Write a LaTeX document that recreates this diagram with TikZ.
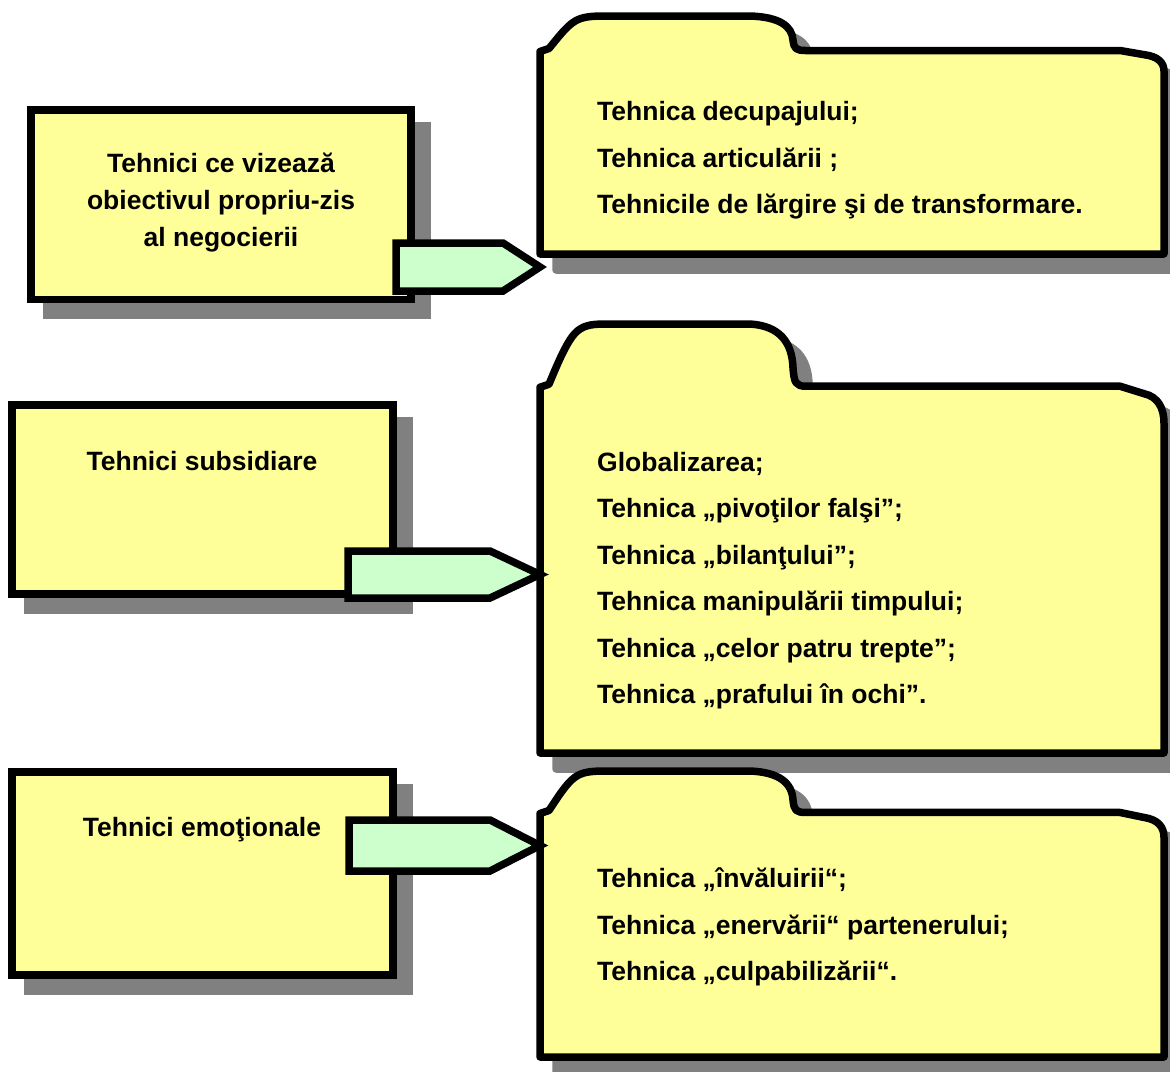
\documentclass[tikz,border=0pt]{standalone}
\usepackage{fontspec}
\setmainfont{Liberation Sans}
\definecolor{boxyellow}{HTML}{FFFF99}
\definecolor{arrowgreen}{HTML}{CCFFCC}
\definecolor{shadowgray}{HTML}{808080}
\tikzset{
  outline/.style={draw=black, line width=7.5pt},
  boxfill/.style={outline, fill=boxyellow, line join=miter},
  foldfill/.style={outline, fill=boxyellow, line join=round},
  shadowfill/.style={fill=shadowgray, draw=shadowgray, line width=7.5pt, line join=miter},
  blockarrow/.style={outline, fill=arrowgreen, line join=miter, miter limit=10},
  itemtext/.style={font=\fontsize{26.5}{30}\selectfont\bfseries, inner sep=0pt, anchor=base west},
  headtext/.style={font=\fontsize{26.5}{30}\selectfont\bfseries, inner sep=0pt, anchor=base},
}
\newcommand\folderpath{(540,\folB) -- (540,\folM+1) -- (549,\folM-2)
  .. controls (556,\folT+0.7*\folh) and (566,\folT+0.3*\folh) .. (575,\folT+0.15*\folh)
  .. controls (582,\folT+0.03*\folh) and (590,\folT) .. (605,\folT)
  -- (750,\folT)
  .. controls (780,\folT+0.03*\folh) and (792,\folT+0.3*\folh) .. (793,\folT+0.7*\folh)
  .. controls (794,\folM-0.05*\folh) and (796,\folM) .. (806,\folM)
  -- (1120,\folM) -- (1144,\folM+0.12*\folh)
  .. controls (1158,\folM+0.17*\folh) and (1164,\folM+0.35*\folh) .. (1164,\folM+0.6*\folh)
  -- (1164,\folB) -- cycle}
\newcommand\drawfolder[2]{%
  \pgfmathsetmacro\folT{#1}%
  \pgfmathsetmacro\folB{#2}%
  \pgfmathsetmacro\folh{0.145*(#2-#1)}%
  \pgfmathsetmacro\folM{#1+\folh}%
  \path[shadowfill, line join=round, shift={(16,16)}] \folderpath;
  \path[foldfill] \folderpath;
}
\newcommand\drawbox[4]{% x1,y1,x2,y2
  \path[shadowfill] (#1+16,#2+16) rectangle (#3+16,#4+16);
  \path[boxfill] (#1,#2) rectangle (#3,#4);
}
\begin{document}
\begin{tikzpicture}[x=1pt, y=-1pt]
\useasboundingbox (0,0) rectangle (1170,1071);

% folders
\drawfolder{16}{254}
\drawfolder{324}{753}
\drawfolder{771}{1057}

% left boxes
\drawbox{31}{110}{411}{299.5}
\drawbox{12}{405}{393}{594}
\drawbox{12}{772}{393}{975}

% left texts
\node[headtext] (h1a) at (221,172) {Tehnici ce vizează};
\node[headtext] (h1b) at (221,209) {obiectivul propriu-zis};
\node[headtext] (h1c) at (221,246) {al negocierii};
\node[headtext] (h2) at (202,470) {Tehnici subsidiare};
\node[headtext] (h3) at (202,836) {Tehnici emoţionale};

% block arrows
\path[blockarrow] (396,243) -- (503,243) -- (540,267) -- (503,291) -- (396,291) -- cycle;
\path[blockarrow] (348,551) -- (490,551) -- (540,574.5) -- (490,598) -- (348,598) -- cycle;
\path[blockarrow] (349,820) -- (490,820) -- (540,845.5) -- (490,871) -- (349,871) -- cycle;

% folder texts
\node[itemtext] (a1) at (597,120) {Tehnica decupajului;};
\node[itemtext] (a2) at (597,167) {Tehnica articulării ;};
\node[itemtext] (a3) at (597,213) {Tehnicile de lărgire şi de transformare.};

\node[itemtext] (b1) at (597,471) {Globalizarea;};
\node[itemtext] (b2) at (597,517) {Tehnica „pivoţilor falşi”;};
\node[itemtext] (b3) at (597,564) {Tehnica „bilanţului”;};
\node[itemtext] (b4) at (597,610) {Tehnica manipulării timpului;};
\node[itemtext] (b5) at (597,657) {Tehnica „celor patru trepte”;};
\node[itemtext] (b6) at (597,703) {Tehnica „prafului în ochi”.};

\node[itemtext] (c1) at (597,887) {Tehnica „învăluirii“;};
\node[itemtext] (c2) at (597,934) {Tehnica „enervării“ partenerului;};
\node[itemtext] (c3) at (597,980) {Tehnica „culpabilizării“.};
\end{tikzpicture}
\end{document}
